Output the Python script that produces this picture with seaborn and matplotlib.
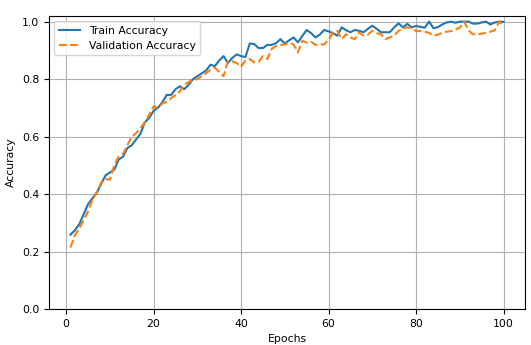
import pandas as pd
import seaborn as sns
import matplotlib.pyplot as plt

# data
epochs = list(range(1, 101))

train_acc = [
    0.259, 0.274, 0.295, 0.330, 0.365, 0.385, 0.405, 0.435, 0.465, 0.475,
    0.485, 0.520, 0.530, 0.560, 0.570, 0.590, 0.610, 0.650, 0.665, 0.690,
    0.700, 0.720, 0.745, 0.745, 0.765, 0.775, 0.765, 0.780, 0.800, 0.810,
    0.820, 0.830, 0.850, 0.845, 0.865, 0.880, 0.856, 0.874, 0.886, 0.880,
    0.877, 0.924, 0.922, 0.908, 0.908, 0.919, 0.919, 0.925, 0.939, 0.924,
    0.935, 0.945, 0.928, 0.950, 0.971, 0.960, 0.945, 0.955, 0.971, 0.966,
    0.960, 0.951, 0.980, 0.970, 0.963, 0.971, 0.968, 0.963, 0.975, 0.986,
    0.975, 0.963, 0.963, 0.963, 0.980, 0.994, 0.980, 0.992, 0.980, 0.985,
    0.982, 0.979, 1.000, 0.977, 0.981, 0.990, 0.997, 1.000, 0.996, 1.000,
    1.000, 1.000, 0.993, 0.993, 0.997, 1.000, 0.990, 0.997, 1.000, 0.999,
]

val_acc = [
    0.215, 0.257, 0.280, 0.310, 0.340, 0.380, 0.405, 0.440, 0.452, 0.450,
    0.500, 0.530, 0.540, 0.570, 0.600, 0.612, 0.630, 0.650, 0.676, 0.705,
    0.700, 0.715, 0.722, 0.734, 0.745, 0.758, 0.780, 0.790, 0.798, 0.800,
    0.810, 0.820, 0.833, 0.840, 0.825, 0.810, 0.862, 0.862, 0.856, 0.843,
    0.865, 0.870, 0.858, 0.860, 0.880, 0.870, 0.905, 0.915, 0.918, 0.921,
    0.927, 0.920, 0.893, 0.933, 0.927, 0.930, 0.919, 0.920, 0.921, 0.936,
    0.962, 0.968, 0.939, 0.956, 0.945, 0.939, 0.962, 0.951, 0.955, 0.968,
    0.960, 0.956, 0.939, 0.945, 0.951, 0.968, 0.975, 0.980, 0.978, 0.967,
    0.967, 0.965, 0.961, 0.950, 0.955, 0.961, 0.965, 0.967, 0.972, 0.979,
    1.000, 0.970, 0.956, 0.956, 0.958, 0.961, 0.965, 0.970, 1.000, 0.985,
]

df = pd.DataFrame({"epoch": epochs, "train": train_acc, "val": val_acc})

plt.rcParams["font.size"] = 7.8

fig = plt.figure(figsize=(5.31, 3.45), dpi=100)
ax = fig.add_axes([0.092, 0.104, 0.897, 0.850])

sns.lineplot(data=df, x="epoch", y="train", ax=ax, color="#1f77b4",
             linewidth=1.5, label="Train Accuracy")
sns.lineplot(data=df, x="epoch", y="val", ax=ax, color="#ff7f0e",
             linewidth=1.5, linestyle="--", label="Validation Accuracy")

ax.set_ylim(0, 1.02)
ax.set_xlabel("Epochs")
ax.set_ylabel("Accuracy")
ax.grid(True)
ax.legend(loc="upper left")

fig.savefig("out.png", dpi=100)
